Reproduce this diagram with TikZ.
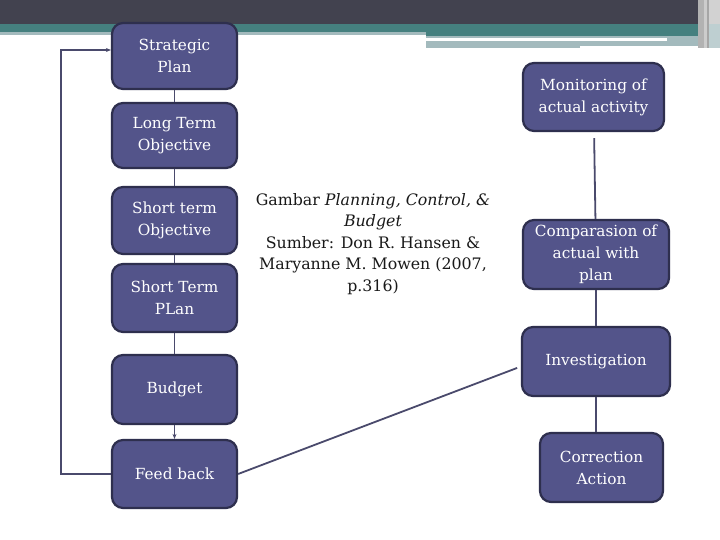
\documentclass[tikz,border=0pt]{standalone}
\usepackage{fontspec}
\setmainfont{DejaVu Serif}
\usetikzlibrary{arrows.meta,calc}
\definecolor{barDark}{HTML}{42424F}
\definecolor{barTeal}{HTML}{45807F}
\definecolor{barLight}{HTML}{A3BABD}
\definecolor{boxFill}{HTML}{53548A}
\definecolor{boxLine}{HTML}{2E2F4E}
\definecolor{conLine}{HTML}{4A4A6C}
\tikzset{
  box/.style={draw=boxLine, line width=2.2pt, fill=boxFill, rounded corners=11pt,
    text=white, align=center, inner sep=2pt,
    font=\fontsize{15.3}{22}\selectfont},
  con/.style={draw=conLine, line width=1.8pt},
  tip/.style={-{Stealth[length=5pt,width=4pt]}}
}
\begin{document}
\begin{tikzpicture}[x=1pt,y=-1pt]
\useasboundingbox (0,0) rectangle (720,540);
\fill[white] (0,0) rectangle (720,540);
% header
\fill[barDark] (0,0) rectangle (720,24);
\fill[barTeal] (0,24) rectangle (426,32);
\fill[barLight] (0,32) rectangle (426,35.5);
\fill[barTeal] (426,24) rectangle (700,36);
\fill[barLight] (426,36) rectangle (700,38.5);
\fill[white] (426,38.5) rectangle (667,41.5);
\fill[barLight] (667,38.5) rectangle (700,46);
\fill[barLight] (426,41.5) rectangle (580,48);
\fill[barLight] (580,41.5) rectangle (667,46);
\fill[gray!60] (698,0) rectangle (704,48);
\fill[gray!40] (704,0) rectangle (707,48);
\fill[gray!70] (707,0) rectangle (709,48);
\fill[gray!35] (709,0) rectangle (720,24);
\fill[barLight!70] (709,24) rectangle (720,48);
% left column
\node[box, minimum width=125pt, minimum height=66pt] (sp) at (174.5,56) {Strategic\\Plan};
\node[box, minimum width=125pt, minimum height=65pt] (lt) at (174.5,135.5) {Long Term\\Objective};
\node[box, minimum width=125pt, minimum height=67pt] (so) at (174.5,220.5) {Short term\\Objective};
\node[box, minimum width=125pt, minimum height=68pt] (stp) at (174.5,298) {Short Term\\PLan};
\node[box, minimum width=125pt, minimum height=69pt] (bud) at (174.5,389.5) {Budget};
\node[box, minimum width=125pt, minimum height=68pt] (fb) at (174.5,474) {Feed back};
% right column
\node[box, minimum width=141pt, minimum height=68pt] (mon) at (593.5,97) {Monitoring of\\actual activity};
\node[box, minimum width=146pt, minimum height=69pt] (cmp) at (596,254.5) {Comparasion of\\actual with\\plan};
\node[box, minimum width=148pt, minimum height=69pt] (inv) at (596,361.5) {Investigation};
\node[box, minimum width=123pt, minimum height=69pt] (cor) at (601.5,467.5) {Correction\\Action};
% caption
\node[align=center, font=\fontsize{15.8}{21.5}\selectfont, text=black!90] (cap) at (373,244)
  {Gambar \textit{Planning, Control, \&}\\\textit{Budget}\\Sumber: Don R. Hansen \&\\Maryanne M. Mowen (2007,\\p.316)};
% connectors
\draw[con] (sp) -- (lt);
\draw[con] (lt) -- (so);
\draw[con] (so) -- (stp);
\draw[con] (stp) -- (bud);
\draw[con, tip] (bud) -- (fb);
\draw[con, line width=1.3pt, tip] (fb.west) -- ++(-50,0) |- ([yshift=6pt]sp.west);
\draw[con, shorten <=6pt] (mon) -- (cmp);
\draw[con] (cmp) -- (inv);
\draw[con] (inv.south) -- (cor.north -| inv.south);
\draw[con, shorten >=4pt] (fb.east) -- ([yshift=-5pt]inv.west);
\end{tikzpicture}
\end{document}
